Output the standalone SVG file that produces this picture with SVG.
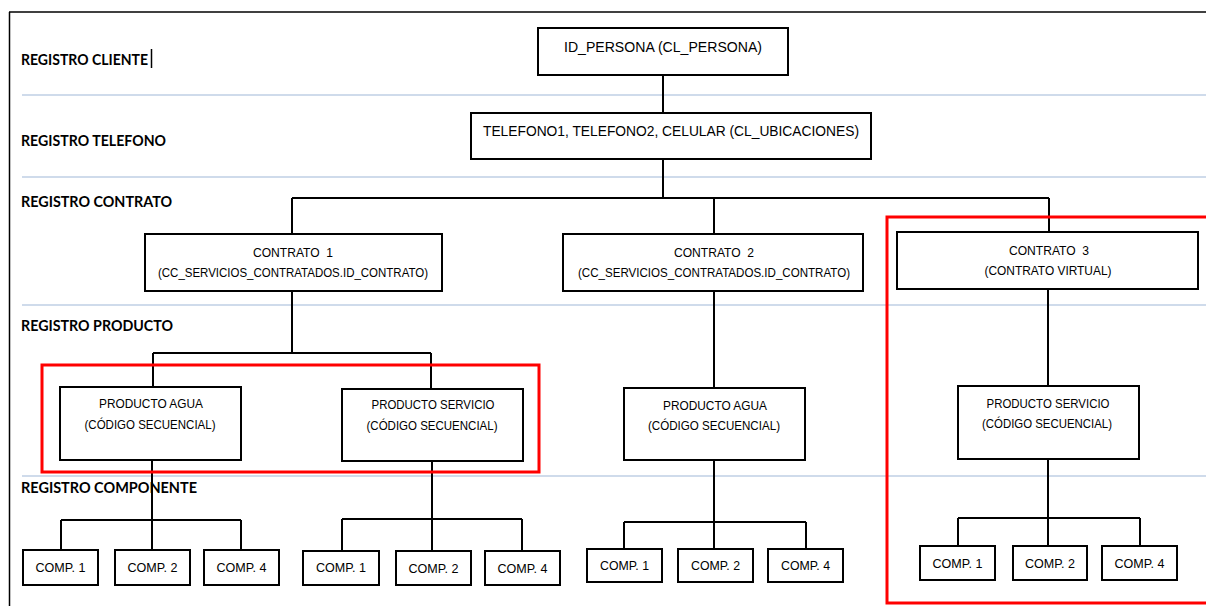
<svg xmlns="http://www.w3.org/2000/svg" width="1206" height="606" viewBox="0 0 1206 606">
<style>
  .frame { stroke: #000; stroke-width: 1.5; fill: none; }
  .sep { stroke: #cfdbeb; stroke-width: 2; fill: none; }
  .box { fill: #fff; stroke: #000; stroke-width: 2; }
  .conn { stroke: #000; stroke-width: 2; fill: none; }
  .hl { fill: none; stroke: #ff0000; stroke-width: 3; }
  .lbl { font-family: Lato, "Liberation Sans", sans-serif; font-weight: bold; font-size: 15px; fill: #000; }
  .big { font-family: "Liberation Sans", Arial, sans-serif; font-size: 14px; fill: #000; text-anchor: middle; }
  .t { font-family: "Liberation Sans", Arial, sans-serif; font-size: 13.5px; fill: #000; text-anchor: middle; }
</style>
<rect x="0" y="0" width="1206" height="606" fill="#fff"/>
<g id="frame">
  <line class="frame" x1="9" y1="12" x2="1206" y2="12"/>
  <line class="frame" x1="9.5" y1="12" x2="9.5" y2="606"/>
</g>
<g id="separators">
  <line class="sep" x1="22" y1="95" x2="1206" y2="95"/>
  <line class="sep" x1="22" y1="177" x2="1206" y2="177"/>
  <line class="sep" x1="22" y1="305" x2="1206" y2="305"/>
  <line class="sep" x1="22" y1="476" x2="1206" y2="476"/>
</g>
<g id="labels">
  <text class="lbl" x="21" y="65" textLength="127" lengthAdjust="spacingAndGlyphs">REGISTRO CLIENTE</text>
  <line x1="151.5" y1="49" x2="151.5" y2="68" stroke="#000" stroke-width="1.5"/>
  <text class="lbl" x="21" y="146" textLength="145" lengthAdjust="spacingAndGlyphs">REGISTRO TELEFONO</text>
  <text class="lbl" x="21" y="207" textLength="151" lengthAdjust="spacingAndGlyphs">REGISTRO CONTRATO</text>
  <text class="lbl" x="21" y="331" textLength="152" lengthAdjust="spacingAndGlyphs">REGISTRO PRODUCTO</text>
</g>
<g id="connectors">
  <path class="conn" d="M663 75V113M663 159V198M292 198H1049M292 198V234M714 198V234M1049 198V232"/>
  <path class="conn" d="M292 291V353M153 353H431M153 353V387M431 353V389"/>
  <path class="conn" d="M714 291V388M1048 289V386"/>
  <path class="conn" d="M152 460V520M61 520H241M61 520V550M152 520V550M241 520V550"/>
  <path class="conn" d="M432 461V519M342 519H522M342 519V551M432 519V551M522 519V551"/>
  <path class="conn" d="M714 460V522M624 522H806M624 522V549M714 522V549M806 522V549"/>
  <path class="conn" d="M1048 459V518M958 518H1140M958 518V546M1048 518V546M1140 518V546"/>
</g>
<g id="label-componente">
  <text class="lbl" x="21" y="493" textLength="176" lengthAdjust="spacingAndGlyphs">REGISTRO COMPONENTE</text>
</g>
<g id="n-persona">
  <rect class="box" x="538" y="28" width="250" height="47"/>
  <text class="big" x="663" y="52" textLength="198" lengthAdjust="spacingAndGlyphs">ID_PERSONA (CL_PERSONA)</text>
</g>
<g id="n-telefono">
  <rect class="box" x="471" y="113" width="400" height="46"/>
  <text class="big" x="671" y="136" textLength="376" lengthAdjust="spacingAndGlyphs">TELEFONO1, TELEFONO2, CELULAR (CL_UBICACIONES)</text>
</g>
<g id="n-contrato1">
  <rect class="box" x="145" y="234" width="297" height="57"/>
  <text class="t" x="293" y="257" textLength="80" lengthAdjust="spacingAndGlyphs">CONTRATO&#160; 1</text>
  <text class="t" x="293" y="277" textLength="270" lengthAdjust="spacingAndGlyphs">(CC_SERVICIOS_CONTRATADOS.ID_CONTRATO)</text>
</g>
<g id="n-contrato2">
  <rect class="box" x="563" y="234" width="300" height="57"/>
  <text class="t" x="714" y="257" textLength="80" lengthAdjust="spacingAndGlyphs">CONTRATO&#160; 2</text>
  <text class="t" x="714" y="277" textLength="272" lengthAdjust="spacingAndGlyphs">(CC_SERVICIOS_CONTRATADOS.ID_CONTRATO)</text>
</g>
<g id="n-contrato3">
  <rect class="box" x="897" y="232" width="301" height="57"/>
  <text class="t" x="1049" y="255" textLength="80" lengthAdjust="spacingAndGlyphs">CONTRATO&#160; 3</text>
  <text class="t" x="1048" y="275" textLength="127" lengthAdjust="spacingAndGlyphs">(CONTRATO VIRTUAL)</text>
</g>
<g id="n-prod-agua1">
  <rect class="box" x="60" y="387" width="181" height="73"/>
  <text class="t" x="151" y="408" textLength="104" lengthAdjust="spacingAndGlyphs">PRODUCTO AGUA</text>
  <text class="t" x="150" y="429" textLength="131" lengthAdjust="spacingAndGlyphs">(CÓDIGO SECUENCIAL)</text>
</g>
<g id="n-prod-serv1">
  <rect class="box" x="342" y="389" width="181" height="72"/>
  <text class="t" x="433" y="409" textLength="123" lengthAdjust="spacingAndGlyphs">PRODUCTO SERVICIO</text>
  <text class="t" x="432" y="430" textLength="131" lengthAdjust="spacingAndGlyphs">(CÓDIGO SECUENCIAL)</text>
</g>
<g id="n-prod-agua2">
  <rect class="box" x="624" y="388" width="181" height="72"/>
  <text class="t" x="715" y="410" textLength="104" lengthAdjust="spacingAndGlyphs">PRODUCTO AGUA</text>
  <text class="t" x="714" y="430" textLength="132" lengthAdjust="spacingAndGlyphs">(CÓDIGO SECUENCIAL)</text>
</g>
<g id="n-prod-serv3">
  <rect class="box" x="958" y="386" width="181" height="73"/>
  <text class="t" x="1048" y="408" textLength="123" lengthAdjust="spacingAndGlyphs">PRODUCTO SERVICIO</text>
  <text class="t" x="1047" y="428" textLength="130" lengthAdjust="spacingAndGlyphs">(CÓDIGO SECUENCIAL)</text>
</g>
<g id="n-compA1"><rect class="box" x="23" y="550" width="75" height="35"/><text class="t" x="60.5" y="572" textLength="50" lengthAdjust="spacingAndGlyphs">COMP. 1</text></g>
<g id="n-compA2"><rect class="box" x="115" y="550" width="75" height="35"/><text class="t" x="152.5" y="572" textLength="50" lengthAdjust="spacingAndGlyphs">COMP. 2</text></g>
<g id="n-compA4"><rect class="box" x="204" y="550" width="75" height="35"/><text class="t" x="241.5" y="572" textLength="50" lengthAdjust="spacingAndGlyphs">COMP. 4</text></g>
<g id="n-compB1"><rect class="box" x="303" y="551" width="76" height="34"/><text class="t" x="341" y="572" textLength="50" lengthAdjust="spacingAndGlyphs">COMP. 1</text></g>
<g id="n-compB2"><rect class="box" x="396" y="551" width="75" height="34"/><text class="t" x="433.5" y="573" textLength="50" lengthAdjust="spacingAndGlyphs">COMP. 2</text></g>
<g id="n-compB4"><rect class="box" x="485" y="551" width="75" height="34"/><text class="t" x="522.5" y="573" textLength="50" lengthAdjust="spacingAndGlyphs">COMP. 4</text></g>
<g id="n-compC1"><rect class="box" x="587" y="549" width="75" height="33"/><text class="t" x="624.5" y="570" textLength="49" lengthAdjust="spacingAndGlyphs">COMP. 1</text></g>
<g id="n-compC2"><rect class="box" x="678" y="549" width="75" height="33"/><text class="t" x="715.5" y="570" textLength="49" lengthAdjust="spacingAndGlyphs">COMP. 2</text></g>
<g id="n-compC4"><rect class="box" x="768" y="549" width="75" height="33"/><text class="t" x="805.5" y="570" textLength="49" lengthAdjust="spacingAndGlyphs">COMP. 4</text></g>
<g id="n-compD1"><rect class="box" x="920" y="546" width="75" height="34"/><text class="t" x="957.5" y="568" textLength="50" lengthAdjust="spacingAndGlyphs">COMP. 1</text></g>
<g id="n-compD2"><rect class="box" x="1013" y="546" width="74" height="34"/><text class="t" x="1050" y="568" textLength="50" lengthAdjust="spacingAndGlyphs">COMP. 2</text></g>
<g id="n-compD4"><rect class="box" x="1102" y="546" width="75" height="34"/><text class="t" x="1139.5" y="568" textLength="50" lengthAdjust="spacingAndGlyphs">COMP. 4</text></g>
<g id="highlights">
  <rect class="hl" x="42" y="365" width="497" height="107"/>
  <rect class="hl" x="887" y="217" width="330" height="386"/>
</g>
</svg>
